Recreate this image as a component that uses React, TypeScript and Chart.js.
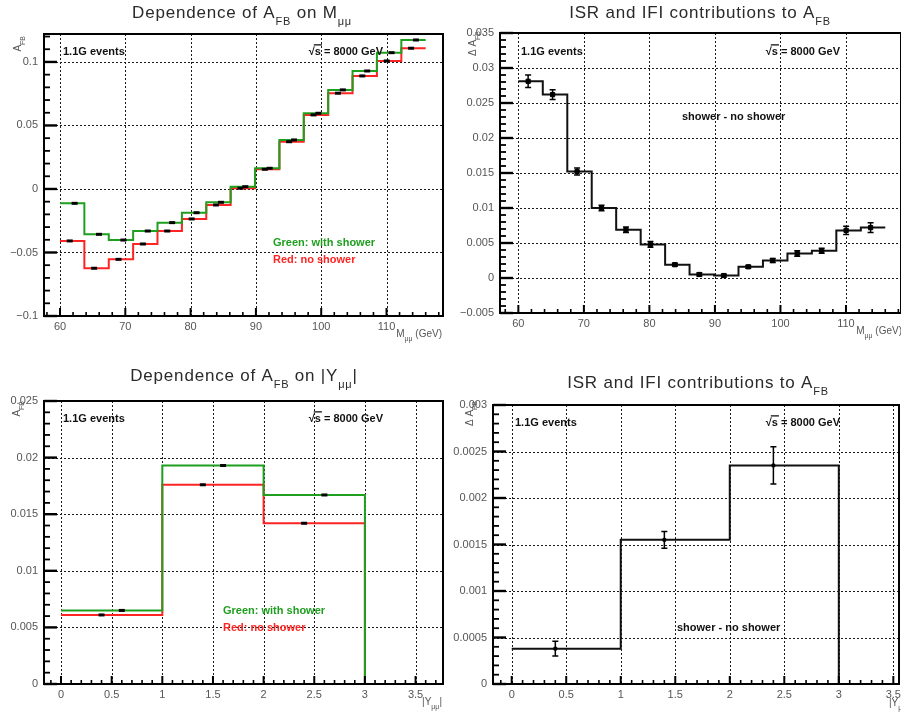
import React, { useEffect, useRef } from "react";
import { Chart, registerables } from "chart.js";

Chart.register(...registerables);

const FONT = '"Liberation Sans", Arial, Helvetica, sans-serif';
const GREEN = "#1f9f1f";
const RED = "#ff2424";
const BLACK = "#000000";
const AXIS_TXT = "#555555";

// ---------------- data ----------------
// Top row: dependence on the di-muon mass (15 bins, 60-116 GeV)
const massBinEdges = [60, 63.73, 67.47, 71.2, 74.93, 78.67, 82.4, 86.13, 89.87, 93.6, 97.33, 101.07, 104.8, 108.53, 112.27, 116];
const afbMassShower = [-0.0113, -0.0357, -0.0402, -0.0331, -0.0265, -0.0187, -0.0105, 0.0018, 0.0163, 0.0386, 0.0596, 0.078, 0.0929, 0.1073, 0.1173];
const afbMassNoShower = [-0.0409, -0.0624, -0.0554, -0.0433, -0.0331, -0.0236, -0.0126, 0.0006, 0.0155, 0.0372, 0.0583, 0.0754, 0.089, 0.1008, 0.1108];
const dAfbMass = [0.0281, 0.0262, 0.0152, 0.01, 0.0069, 0.0048, 0.0019, 0.0005, 0.00035, 0.0016, 0.0025, 0.0035, 0.0039, 0.0068, 0.0072];
const dAfbMassErr = [0.0009, 0.0007, 0.0005, 0.0004, 0.0004, 0.0004, 0.0002, 0.0002, 0.0002, 0.0002, 0.0003, 0.0004, 0.00035, 0.0006, 0.0007];

// Bottom row: dependence on |Y| (bins 0-1, 1-2, 2-3 and an empty 3-4 bin)
const rapBinEdges = [0, 1, 2, 3, 4];
const afbRapShower = [0.0065, 0.0193, 0.0167, 0];
const afbRapNoShower = [0.0061, 0.0176, 0.0142, 0];
const dAfbRap = [0.00038, 0.00155, 0.00235, 0];
const dAfbRapErr = [0.00008, 0.00009, 0.0002, 0];
const rapFilledBins = 3;

// tick values
const massTicks = [60, 70, 80, 90, 100, 110];
const afbMassTicks = [-0.1, -0.05, 0, 0.05, 0.1];
const dAfbMassTicks = [-0.005, 0, 0.005, 0.01, 0.015, 0.02, 0.025, 0.03, 0.035];
const rapTicks = [0, 0.5, 1, 1.5, 2, 2.5, 3, 3.5];
const afbRapTicks = [0, 0.005, 0.01, 0.015, 0.02, 0.025];
const dAfbRapTicks = [0, 0.0005, 0.001, 0.0015, 0.002, 0.0025, 0.003];

// ---------------- helpers ----------------
type Pt = { x: number; y: number };
const stepPoints = (edges: number[], vals: number[]): Pt[] => [
  ...vals.map((v, i) => ({ x: edges[i], y: v })),
  { x: edges[edges.length - 1], y: vals[vals.length - 1] },
];
const markerPoints = (edges: number[], vals: number[], shift: number, n = vals.length): Pt[] =>
  vals.slice(0, n).map((v, i) => {
    const w = edges[i + 1] - edges[i];
    return { x: edges[i] + w / 2 + shift * w, y: v };
  });
const errorPoints = (edges: number[], vals: number[], errs: number[], shift: number, n = vals.length) =>
  markerPoints(edges, vals, shift, n).map((p, i) => ({ ...p, e: errs[i] }));

const fmtTick = (v: number) => {
  if (Math.abs(v) < 1e-12) return "0";
  return String(parseFloat(v.toPrecision(6))).replace("-", "\u2212");
};

type Part = { t: string; sub?: boolean; over?: boolean };
type TextItem = {
  parts: Part[];
  x: number;
  y: number;
  size: number;
  align?: "left" | "right" | "center";
  bold?: boolean;
  color?: string;
  rotate?: boolean;
  spacing?: number;
};

function drawRich(ctx: CanvasRenderingContext2D, it: TextItem) {
  const main = `${it.bold ? "bold " : ""}${it.size}px ${FONT}`;
  const subSize = Math.round(it.size * 0.66);
  const sub = `${it.bold ? "bold " : ""}${subSize}px ${FONT}`;
  ctx.save();
  (ctx as any).letterSpacing = `${it.spacing ?? 0}px`;
  const widths = it.parts.map((p) => {
    ctx.font = p.sub ? sub : main;
    return ctx.measureText(p.t).width;
  });
  const total = widths.reduce((a, b) => a + b, 0);
  ctx.translate(it.x, it.y);
  if (it.rotate) ctx.rotate(-Math.PI / 2);
  let cx = it.align === "right" ? -total : it.align === "center" ? -total / 2 : 0;
  ctx.fillStyle = it.color ?? BLACK;
  ctx.strokeStyle = it.color ?? BLACK;
  ctx.textAlign = "left";
  ctx.textBaseline = "alphabetic";
  it.parts.forEach((p, i) => {
    ctx.font = p.sub ? sub : main;
    ctx.fillText(p.t, cx, p.sub ? it.size * 0.42 : 0);
    if (p.over) {
      ctx.lineWidth = 1.3;
      ctx.beginPath();
      ctx.moveTo(cx - 1, -it.size * 0.92);
      ctx.lineTo(cx + widths[i] + 1, -it.size * 0.92);
      ctx.stroke();
    }
    cx += widths[i];
  });
  ctx.restore();
}

const valuesBetween = (min: number, max: number, step: number) => {
  const out: number[] = [];
  for (let k = Math.ceil(min / step - 1e-9); k * step <= max + step * 1e-6; k++) out.push(k * step);
  return out;
};

type ErrPt = { x: number; y: number; e: number };
interface PanelSpec {
  left: number;
  top: number;
  w: number;
  h: number;
  frame: { l: number; t: number; r: number; b: number };
  xMin: number;
  xMax: number;
  yMin: number;
  yMax: number;
  xTicks: number[];
  yTicks: number[];
  xMinor: number;
  yMinor: number;
  datasets: any[];
  errors?: ErrPt[];
  texts: TextItem[];
}

function rootPlugin(spec: PanelSpec) {
  return {
    id: "rootStyle",
    beforeDatasetsDraw(chart: any) {
      const { ctx, chartArea: a, scales } = chart;
      const xs = scales.x;
      const ys = scales.y;
      ctx.save();
      ctx.strokeStyle = "#1a1a1a";
      ctx.lineWidth = 1;
      ctx.setLineDash([2, 2]);
      ctx.beginPath();
      spec.xTicks.forEach((v) => {
        const px = Math.round(xs.getPixelForValue(v)) + 0.5;
        if (px > a.left + 2 && px < a.right - 2) {
          ctx.moveTo(px, a.top);
          ctx.lineTo(px, a.bottom);
        }
      });
      spec.yTicks.forEach((v) => {
        const py = Math.round(ys.getPixelForValue(v)) + 0.5;
        if (py > a.top + 2 && py < a.bottom - 2) {
          ctx.moveTo(a.left, py);
          ctx.lineTo(a.right, py);
        }
      });
      ctx.stroke();
      ctx.restore();
    },
    afterDatasetsDraw(chart: any) {
      const { ctx, chartArea: a, scales } = chart;
      const xs = scales.x;
      const ys = scales.y;
      ctx.save();
      // error bars
      if (spec.errors) {
        ctx.strokeStyle = BLACK;
        ctx.lineWidth = 1.5;
        ctx.beginPath();
        spec.errors.forEach((p) => {
          const px = xs.getPixelForValue(p.x);
          const y1 = ys.getPixelForValue(p.y + p.e);
          const y2 = ys.getPixelForValue(p.y - p.e);
          ctx.moveTo(px, y1);
          ctx.lineTo(px, y2);
          ctx.moveTo(px - 3, y1);
          ctx.lineTo(px + 3, y1);
          ctx.moveTo(px - 3, y2);
          ctx.lineTo(px + 3, y2);
        });
        ctx.stroke();
      }
      // tick marks (inside, ROOT style)
      ctx.strokeStyle = BLACK;
      const isMajor = (v: number, majors: number[], step: number) =>
        majors.some((m) => Math.abs(m - v) < step * 1e-3);
      valuesBetween(spec.xMin, spec.xMax, spec.xMinor).forEach((v) => {
        const px = xs.getPixelForValue(v);
        if (px < a.left || px > a.right) return;
        const major = isMajor(v, spec.xTicks, spec.xMinor);
        ctx.lineWidth = major ? 2 : 1.6;
        ctx.beginPath();
        ctx.moveTo(px, a.bottom);
        ctx.lineTo(px, a.bottom - (major ? 8 : 4));
        ctx.stroke();
      });
      valuesBetween(spec.yMin, spec.yMax, spec.yMinor).forEach((v) => {
        const py = ys.getPixelForValue(v);
        if (py < a.top - 0.5 || py > a.bottom + 0.5) return;
        const major = isMajor(v, spec.yTicks, spec.yMinor);
        ctx.lineWidth = major ? 2.4 : 1.8;
        ctx.beginPath();
        ctx.moveTo(a.left, py);
        ctx.lineTo(a.left + (major ? 13 : 6), py);
        ctx.stroke();
      });
      // frame
      ctx.lineWidth = 2;
      ctx.strokeRect(a.left, a.top, a.right - a.left, a.bottom - a.top);
      ctx.restore();
      // texts
      spec.texts.forEach((t) => drawRich(ctx, { ...t, x: t.x - spec.left, y: t.y - spec.top }));
    },
  };
}

function buildConfig(spec: PanelSpec): any {
  const yW = spec.frame.l - spec.left;
  const xH = 22;
  const tickFont = { family: FONT, size: 11 };
  return {
    type: "line",
    data: { datasets: spec.datasets },
    plugins: [rootPlugin(spec)],
    options: {
      animation: false,
      responsive: false,
      events: [],
      layout: {
        padding: {
          left: 0,
          top: spec.frame.t - spec.top,
          right: spec.left + spec.w - spec.frame.r,
          bottom: spec.top + spec.h - spec.frame.b - xH,
        },
      },
      plugins: { legend: { display: false }, title: { display: false }, tooltip: { enabled: false } },
      scales: {
        x: {
          type: "linear",
          min: spec.xMin,
          max: spec.xMax,
          grid: { display: false, drawTicks: false },
          border: { display: false },
          afterBuildTicks: (s: any) => {
            s.ticks = spec.xTicks.map((v) => ({ value: v }));
          },
          afterFit: (s: any) => {
            s.height = xH;
          },
          ticks: {
            padding: 4,
            color: AXIS_TXT,
            font: tickFont,
            maxRotation: 0,
            autoSkip: false,
            callback: (v: number) => fmtTick(v),
          },
        },
        y: {
          type: "linear",
          min: spec.yMin,
          max: spec.yMax,
          grid: { display: false, drawTicks: false },
          border: { display: false },
          afterBuildTicks: (s: any) => {
            s.ticks = spec.yTicks.map((v) => ({ value: v }));
          },
          afterFit: (s: any) => {
            s.width = yW;
          },
          ticks: {
            padding: 6,
            color: AXIS_TXT,
            font: tickFont,
            autoSkip: false,
            callback: (v: number) => fmtTick(v),
          },
        },
      },
    },
  };
}

const stepLine = (data: Pt[], color: string) => ({
  data,
  borderColor: color,
  borderWidth: 2,
  stepped: true,
  pointRadius: 0,
  fill: false,
  tension: 0,
});
const dashMarkers = (data: Pt[]) => ({
  data,
  showLine: false,
  pointStyle: "line",
  pointRadius: 3,
  pointBorderWidth: 3,
  pointBorderColor: BLACK,
  pointBackgroundColor: BLACK,
});
const boxMarkers = (data: Pt[], r: number) => ({
  data,
  showLine: false,
  pointStyle: "rect",
  pointRadius: r,
  pointBorderWidth: 1,
  pointBorderColor: BLACK,
  pointBackgroundColor: BLACK,
});

const TITLE = { size: 17, align: "center" as const, color: "#2a2a2a", spacing: 0.8 };
const NOTE = { size: 11, bold: true, color: "#111111" };
const AX = { size: 10, color: AXIS_TXT };
const SQRT_S: Part[] = [{ t: "\u221A" }, { t: "s", over: true }, { t: " = 8000 GeV" }];

const panels: PanelSpec[] = [
  {
    left: 0,
    top: 0,
    w: 450,
    h: 357,
    frame: { l: 44, t: 34, r: 443, b: 316 },
    xMin: 57.55,
    xMax: 118.65,
    yMin: -0.1,
    yMax: 0.122,
    xTicks: massTicks,
    yTicks: afbMassTicks,
    xMinor: 2,
    yMinor: 0.01,
    datasets: [
      dashMarkers(markerPoints(massBinEdges, afbMassShower, 0.1)),
      dashMarkers(markerPoints(massBinEdges, afbMassNoShower, -0.1)),
      stepLine(stepPoints(massBinEdges, afbMassShower), GREEN),
      stepLine(stepPoints(massBinEdges, afbMassNoShower), RED),
    ],
    texts: [
      { ...TITLE, parts: [{ t: "Dependence of A" }, { t: "FB", sub: true }, { t: " on M" }, { t: "\u03BC\u03BC", sub: true }], x: 242, y: 18 },
      { ...NOTE, parts: [{ t: "1.1G events" }], x: 63, y: 55 },
      { ...NOTE, parts: SQRT_S, x: 383, y: 55, align: "right" },
      { ...NOTE, parts: [{ t: "Green: with shower" }], x: 273, y: 246, color: GREEN },
      { ...NOTE, parts: [{ t: "Red: no shower" }], x: 273, y: 263, color: RED },
      { ...AX, parts: [{ t: "A" }, { t: "FB", sub: true }], x: 21, y: 36, rotate: true, align: "right" },
      { ...AX, parts: [{ t: "M" }, { t: "\u03BC\u03BC", sub: true }, { t: " (GeV)" }], x: 442, y: 337, align: "right" },
    ],
  },
  {
    left: 450,
    top: 0,
    w: 480,
    h: 357,
    frame: { l: 500, t: 33, r: 901, b: 313 },
    xMin: 57.2,
    xMax: 118.4,
    yMin: -0.005,
    yMax: 0.035,
    xTicks: massTicks,
    yTicks: dAfbMassTicks,
    xMinor: 2,
    yMinor: 0.001,
    datasets: [
      boxMarkers(markerPoints(massBinEdges, dAfbMass, -0.1), 3),
      stepLine(stepPoints(massBinEdges, dAfbMass), "#111111"),
    ],
    errors: errorPoints(massBinEdges, dAfbMass, dAfbMassErr, -0.1),
    texts: [
      { ...TITLE, parts: [{ t: "ISR and IFI contributions to A" }, { t: "FB", sub: true }], x: 700, y: 18 },
      { ...NOTE, parts: [{ t: "1.1G events" }], x: 521, y: 55 },
      { ...NOTE, parts: SQRT_S, x: 840, y: 55, align: "right" },
      { ...NOTE, parts: [{ t: "shower - no shower" }], x: 682, y: 120 },
      { ...AX, parts: [{ t: "\u0394 A" }, { t: "FB", sub: true }], x: 476, y: 31, rotate: true, align: "right" },
      { ...AX, parts: [{ t: "M" }, { t: "\u03BC\u03BC", sub: true }, { t: " (GeV)" }], x: 902, y: 334, align: "right" },
    ],
  },
  {
    left: 0,
    top: 357,
    w: 450,
    h: 358,
    frame: { l: 44, t: 401, r: 443, b: 684 },
    xMin: -0.168,
    xMax: 3.771,
    yMin: 0,
    yMax: 0.025,
    xTicks: rapTicks,
    yTicks: afbRapTicks,
    xMinor: 0.1,
    yMinor: 0.001,
    datasets: [
      dashMarkers(markerPoints(rapBinEdges, afbRapShower, 0.1, rapFilledBins)),
      dashMarkers(markerPoints(rapBinEdges, afbRapNoShower, -0.1, rapFilledBins)),
      stepLine(stepPoints(rapBinEdges, afbRapShower), GREEN),
      stepLine(stepPoints(rapBinEdges, afbRapNoShower), RED),
    ],
    texts: [
      { ...TITLE, parts: [{ t: "Dependence of A" }, { t: "FB", sub: true }, { t: " on |Y" }, { t: "\u03BC\u03BC", sub: true }, { t: "|" }], x: 244, y: 381 },
      { ...NOTE, parts: [{ t: "1.1G events" }], x: 63, y: 422 },
      { ...NOTE, parts: SQRT_S, x: 383, y: 422, align: "right" },
      { ...NOTE, parts: [{ t: "Green: with shower" }], x: 223, y: 614, color: GREEN },
      { ...NOTE, parts: [{ t: "Red: no shower" }], x: 223, y: 631, color: RED },
      { ...AX, parts: [{ t: "A" }, { t: "FB", sub: true }], x: 20, y: 401, rotate: true, align: "right" },
      { ...AX, parts: [{ t: "|Y" }, { t: "\u03BC\u03BC", sub: true }, { t: "|" }], x: 442, y: 705, align: "right" },
    ],
  },
  {
    left: 450,
    top: 357,
    w: 480,
    h: 358,
    frame: { l: 493, t: 405, r: 899, b: 684 },
    xMin: -0.1715,
    xMax: 3.552,
    yMin: 0,
    yMax: 0.003,
    xTicks: rapTicks,
    yTicks: dAfbRapTicks,
    xMinor: 0.1,
    yMinor: 0.0001,
    datasets: [
      boxMarkers(markerPoints(rapBinEdges, dAfbRap, -0.1, rapFilledBins), 2),
      stepLine(stepPoints(rapBinEdges, dAfbRap), "#111111"),
    ],
    errors: errorPoints(rapBinEdges, dAfbRap, dAfbRapErr, -0.1, rapFilledBins),
    texts: [
      { ...TITLE, parts: [{ t: "ISR and IFI contributions to A" }, { t: "FB", sub: true }], x: 698, y: 388 },
      { ...NOTE, parts: [{ t: "1.1G events" }], x: 515, y: 426 },
      { ...NOTE, parts: SQRT_S, x: 840, y: 426, align: "right" },
      { ...NOTE, parts: [{ t: "shower - no shower" }], x: 677, y: 631 },
      { ...AX, parts: [{ t: "\u0394 A" }, { t: "FB", sub: true }], x: 473, y: 401, rotate: true, align: "right" },
      { ...AX, parts: [{ t: "|Y" }, { t: "\u03BC\u03BC", sub: true }, { t: "|" }], x: 889, y: 706 },
    ],
  },
];

function Panel({ spec }: { spec: PanelSpec }) {
  const ref = useRef<HTMLCanvasElement>(null);
  useEffect(() => {
    if (!ref.current) return;
    const chart = new Chart(ref.current, buildConfig(spec));
    return () => chart.destroy();
  }, [spec]);
  return (
    <canvas
      ref={ref}
      width={spec.w}
      height={spec.h}
      style={{ position: "absolute", left: spec.left, top: spec.top, width: spec.w, height: spec.h }}
    />
  );
}

export default function App() {
  return (
    <div
      style={{
        position: "fixed",
        left: 0,
        top: 0,
        width: 901,
        height: 715,
        overflow: "hidden",
        background: "#ffffff",
      }}
    >
      {panels.map((p, i) => (
        <Panel key={i} spec={p} />
      ))}
    </div>
  );
}
